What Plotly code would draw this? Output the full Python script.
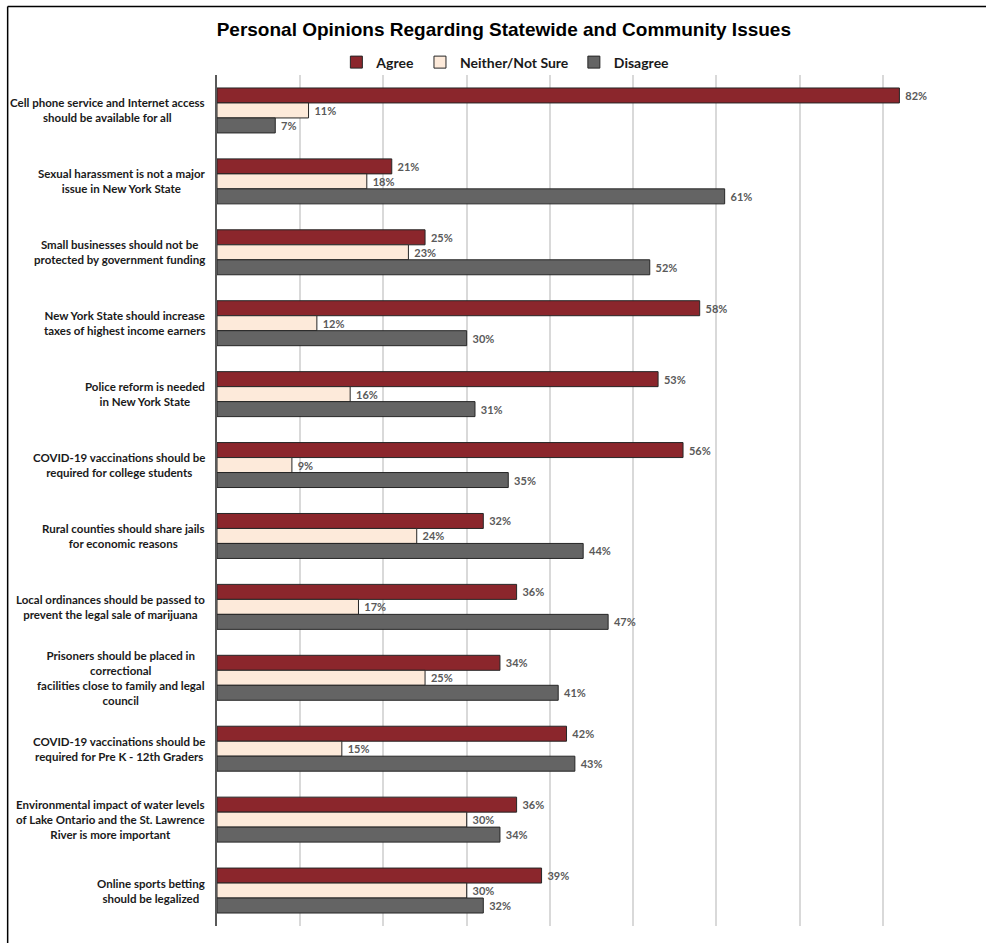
import plotly.graph_objects as go

# Survey statements (top to bottom)
statements = [
    "Cell phone service and Internet access<br>should be available for all",
    "Sexual harassment is not a major<br>issue in New York State",
    "Small businesses should not be<br>protected by government funding",
    "New York State should increase<br>taxes of highest income earners",
    "Police reform is needed<br>in New York State",
    "COVID-19 vaccinations should be<br>required for college students",
    "Rural counties should share jails<br>for economic reasons",
    "Local ordinances should be passed to<br>prevent the legal sale of marijuana",
    "Prisoners should be placed in<br>correctional<br>facilities close to family and legal<br>council",
    "COVID-19 vaccinations should be<br>required for Pre K - 12th Graders",
    "Environmental impact of water levels<br>of Lake Ontario and the St. Lawrence<br>River is more important",
    "Online sports betting<br>should be legalized",
]

# Share of respondents (%)
agree = [82, 21, 25, 58, 53, 56, 32, 36, 34, 42, 36, 39]
neither = [11, 18, 23, 12, 16, 9, 24, 17, 25, 15, 30, 30]
disagree = [7, 61, 52, 30, 31, 35, 44, 47, 41, 43, 34, 32]

series_names = ["Agree", "Neither/Not Sure", "Disagree"]
series_values = [agree, neither, disagree]
series_colors = ["#8B262C", "#FDEADA", "#646464"]

cat_ids = list(range(len(statements)))

fig = go.Figure()
for name, vals, color in zip(series_names, series_values, series_colors):
    fig.add_trace(go.Bar(
        name=name,
        y=cat_ids,
        x=[v / 100 for v in vals],
        orientation="h",
        marker=dict(color=color, line=dict(color="#262626", width=1)),
        text=[f"\u00a0<b>{v}%</b>" for v in vals],
        textposition="outside",
        textfont=dict(family="Lato", size=11, color="#595959"),
        cliponaxis=False,
        constraintext="none",
        hoverinfo="skip",
    ))

# Category labels, centered multi-line text to the left of the axis
for cid, label in zip(cat_ids, statements):
    fig.add_annotation(
        x=0, xref="paper", y=cid, yref="y",
        text=f"<b>{label}</b>", showarrow=False,
        xanchor="right", xshift=-10, align="center",
        font=dict(family="Lato", size=11.5, color="#1a1a1a"),
    )

# Outer frame lines
fig.add_shape(type="line", xref="paper", yref="paper",
              x0=-0.2795, x1=-0.2795, y0=1.0804, y1=-0.05,
              line=dict(color="#000000", width=1.5))
fig.add_shape(type="line", xref="paper", yref="paper",
              x0=-0.2795, x1=1.05, y0=1.0804, y1=1.0804,
              line=dict(color="#000000", width=1.5))

fig.update_layout(
    width=986, height=943,
    margin=dict(l=216.5, r=20, t=74.5, b=16.5),
    paper_bgcolor="white", plot_bgcolor="white",
    barmode="group", bargap=0.366, bargroupgap=0,
    title=dict(
        text="<b>Personal Opinions Regarding Statewide and Community Issues</b>",
        x=0.511, xref="container", xanchor="center",
        y=1 - 29 / 943, yref="container", yanchor="middle",
        font=dict(family="Liberation Sans", size=19, color="#000000"),
    ),
    legend=dict(
        orientation="h", x=0.385, xanchor="center", y=1 + 12.5 / 852, yanchor="middle",
        font=dict(family="Lato", size=14, color="#1a1a1a", weight="bold"),
        itemwidth=30, bgcolor="rgba(255,255,255,0)", traceorder="normal",
    ),
    xaxis=dict(
        range=[0, 0.9], dtick=0.1, showticklabels=False,
        showgrid=True, gridcolor="#d9d9d9", gridwidth=1.5,
        zeroline=False, showline=False, fixedrange=True,
    ),
    yaxis=dict(
        autorange="reversed", showticklabels=False, showgrid=False,
        showline=True, linecolor="#595959", linewidth=1.5,
        zeroline=False, ticks="", fixedrange=True,
    ),
    showlegend=True,
)

fig.write_html("out.html")
